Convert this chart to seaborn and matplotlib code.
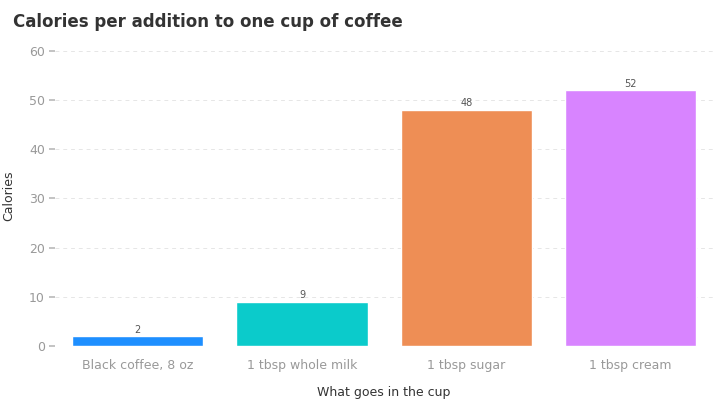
import matplotlib
matplotlib.use("Agg")
import matplotlib.pyplot as plt
import seaborn as sns
import pandas as pd

categories = ["Black coffee, 8 oz", "1 tbsp whole milk", "1 tbsp sugar", "1 tbsp cream"]
calories = [2, 9, 48, 52]
colors = ["#1E8FFF", "#0BCBCB", "#EE8E55", "#D884FF"]

sns.set_theme(style="white")
plt.rcParams['font.family'] = ['DejaVu Sans']
df = pd.DataFrame({"cat": categories, "cal": calories})

fig, ax = plt.subplots(figsize=(7.2, 4), dpi=100)
fig.subplots_adjust(left=0.077, right=0.99, top=0.885, bottom=0.135)
sns.barplot(data=df, x="cat", y="cal", hue="cat", palette=colors, legend=False, ax=ax, width=0.8, saturation=1)
for i, v in enumerate(calories):
    ax.text(i, v + 0.3, str(v), ha="center", va="bottom", fontsize=7, color="#555555")
ax.set_ylim(0, 61)
ax.set_yticks(range(0, 61, 10))
ax.yaxis.grid(True, linestyle=(0, (4, 4)), color="#E6E6E6", linewidth=0.7)
ax.set_axisbelow(True)
for s in ax.spines.values():
    s.set_visible(False)
ax.tick_params(axis="y", left=True, length=4, color="#BBBBBB", labelsize=9, labelcolor="#999999")
ax.tick_params(axis="x", bottom=False, labelsize=9, labelcolor="#999999")
ax.set_xlabel("What goes in the cup", fontsize=9, color="#333333", labelpad=10)
ax.set_ylabel("Calories", fontsize=9, color="#333333", labelpad=10)
fig.text(0.018, 0.945, "Calories per addition to one cup of coffee", fontsize=12, fontweight="bold", color="#333333", va="center")
fig.savefig("out.png")
